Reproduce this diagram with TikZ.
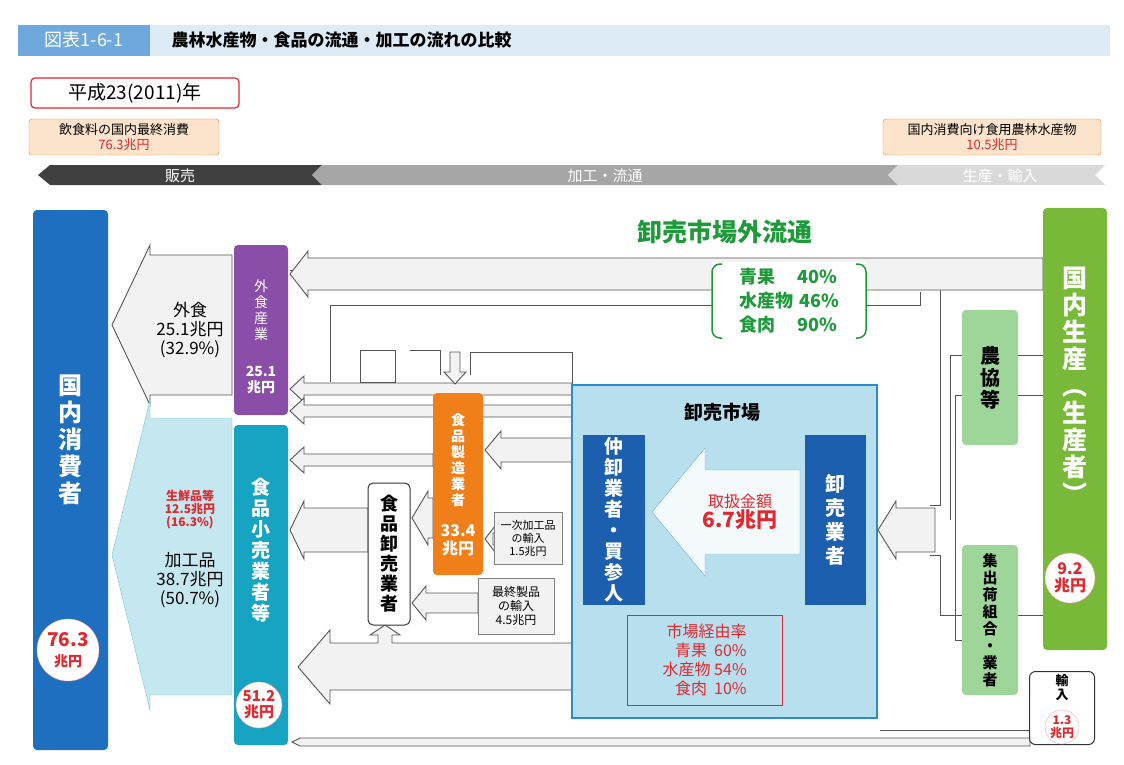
\documentclass[tikz,border=0pt]{standalone}
\usepackage{fontspec}
\setmainfont{Noto Sans CJK JP}
\usetikzlibrary{calc, arrows.meta}
\definecolor{titlebg}{HTML}{DDEBF7}
\definecolor{titledark}{HTML}{6FA8DC}
\definecolor{orgfill}{HTML}{FCE4CC}
\definecolor{orgline}{HTML}{F08A24}
\definecolor{consblue}{HTML}{1F6FC0}
\definecolor{purp}{HTML}{8A4DA8}
\definecolor{retail}{HTML}{17A3C2}
\definecolor{prodgreen}{HTML}{79B93A}
\definecolor{lightgreen}{HTML}{9ED69A}
\definecolor{mktbg}{HTML}{B7DFEE}
\definecolor{mktline}{HTML}{2E8BC9}
\definecolor{innerblue}{HTML}{1B5FAE}
\definecolor{mfgorange}{HTML}{F07F1A}
\definecolor{txtgreen}{HTML}{1E9A3A}
\definecolor{txtred}{HTML}{E0282E}
\definecolor{flowfill}{HTML}{F2F2F2}
\definecolor{flowline}{HTML}{555555}
\tikzset{
  flow/.style={fill=flowfill, draw=flowline, line width=0.9pt, line join=miter},
  pipe/.style={draw=flowline, line width=0.9pt},
  bar/.style={rounded corners=4pt, draw=none},
  vlabel/.style={align=center, font=\bfseries\fontsize{17}{19}\selectfont, inner sep=0pt},
  money/.style={circle, fill=white, draw=txtred!40, minimum size=46pt, inner sep=0pt, align=center,
    text=txtred, font=\bfseries\fontsize{13}{14}\selectfont},
  chev/.style={text=white, font=\fontsize{15}{16}\selectfont}
}
% hollow arrow pointing left: tip x, tail x, centre y, half width, head length
\newcommand\flowL[5]{\draw[flow] (#2,#3-#4) -- (#1+#5,#3-#4) -- (#1+#5,#3-#4-7) -- (#1,#3)
  -- (#1+#5,#3+#4+7) -- (#1+#5,#3+#4) -- (#2,#3+#4) -- cycle;}
\begin{document}
\begin{tikzpicture}[x=1pt, y=-1pt]
\useasboundingbox (0,0) rectangle (1124,765);
% title
\fill[titlebg] (18,25) rectangle (1110,56);
\fill[titledark] (18,25) rectangle (150,56);
\node[text=white, font=\fontsize{18}{19}\selectfont] (fig) at (84,40) {図表1-6-1};
\node[anchor=west, font=\bfseries\fontsize{17}{18}\selectfont] (title) at (168,40) {農林水産物・食品の流通・加工の流れの比較};
\node[draw=txtred, line width=1.2pt, rounded corners=4pt, minimum width=208pt, minimum height=30pt,
  font=\fontsize{19}{20}\selectfont] (year) at (135,93) {平成23(2011)年};
% top boxes
\node[draw=orgline, fill=orgfill, rounded corners=3pt, minimum width=190pt, minimum height=36pt, align=center,
  font=\fontsize{13}{15}\selectfont] (consume) at (124,137) {飲食料の国内最終消費\\\textcolor{txtred}{76.3兆円}};
\node[draw=orgline, fill=orgfill, rounded corners=3pt, minimum width=218pt, minimum height=36pt, align=center,
  font=\fontsize{13}{15}\selectfont] (supply) at (992,137) {国内消費向け食用農林水産物\\\textcolor{txtred}{10.5兆円}};
% chevron band
\fill[black!75] (38,175) -- (50,165) -- (322,165) -- (312,175) -- (322,185) -- (50,185) -- cycle;
\fill[black!35] (312,175) -- (322,165) -- (898,165) -- (888,175) -- (898,185) -- (322,185) -- cycle;
\fill[black!15] (888,175) -- (898,165) -- (1105,165) -- (1095,175) -- (1105,185) -- (898,185) -- cycle;
\node[chev] (sale) at (180,176) {販売};
\node[chev] (proc) at (605,176) {加工・流通};
\node[chev] (prod) at (1000,176) {生産・輸入};
% pipes from producers
\draw[pipe] (1043,270) -- (290,270);
\draw[pipe] (920,292) -- (920,305) -- (330,305) -- (330,382);
\draw[pipe] (1043,280) -- (940,280) -- (940,505) -- (930,505);
\draw[pipe] (1043,355) -- (1018,355);
\draw[pipe] (962,355) -- (950,355) -- (950,520);
\draw[pipe] (1043,615) -- (1018,615);
\draw[pipe] (962,615) -- (940,615) -- (940,555) -- (930,555);
\draw[pipe] (1043,395) -- (1018,395);
\draw[pipe] (962,395) -- (955,395) -- (955,640) -- (962,640);
\draw[pipe] (360,350) rectangle (395,382);
\draw[pipe] (410,350) -- (440,350) -- (440,375);
\draw[pipe] (470,375) -- (470,352) -- (572,352) -- (572,385);
\draw[pipe] (1030,730) -- (880,730);
% flows
\flowL{290}{1043}{274}{16}{18}
\flowL{290}{572}{389}{6}{14}
\flowL{290}{572}{411}{6}{14}
\flowL{290}{433}{460}{6}{14}
\flowL{485}{572}{450}{12}{16}
\flowL{412}{433}{518}{20}{16}
\flowL{485}{493}{539}{6}{10}
\flowL{412}{478}{603}{10}{14}
\flowL{290}{368}{530}{22}{14}
\flowL{878}{935}{530}{22}{18}
\draw[flow] (572,643) -- (392,643) -- (392,635) -- (400,635) -- (385,625) -- (370,635) -- (378,635) -- (378,643)
  -- (330,643) -- (330,630) -- (298,667) -- (330,704) -- (330,690) -- (572,690) -- cycle;
\draw[flow] (1030,738) -- (300,738) -- (292,742) -- (300,746) -- (1030,746) -- cycle;
\draw[flow] (450,352) -- (450,372) -- (444,372) -- (455,384) -- (466,372) -- (460,372) -- (460,352) -- cycle;
% consumer
\fill[consblue, bar] (33,210) rectangle (108,750);
\node[vlabel, text=white, font=\bfseries\fontsize{24}{27}\selectfont] (cons) at (70,440) {国\\内\\消\\費\\者};
\node[money, minimum size=62pt, font=\bfseries\fontsize{19}{20}\selectfont] (cm) at (68,650) {76.3\\\fontsize{14}{15}\selectfont 兆円};
% eating-out arrow
\draw[flow] (232,255) -- (150,255) -- (150,245) -- (112,325) -- (150,405) -- (150,395) -- (232,395) -- cycle;
\node[align=center, font=\fontsize{17}{19}\selectfont] (eat) at (190,330) {外食\\25.1兆円\\(32.9\%)};
% retail arrow
\draw[fill=retail!25, draw=retail!60] (232,418) -- (150,418) -- (150,400) -- (112,555) -- (150,710) -- (150,695) -- (232,695) -- cycle;
\node[align=center, text=txtred, font=\bfseries\fontsize{12}{13}\selectfont] (fresh) at (190,510) {生鮮品等\\12.5兆円\\(16.3\%)};
\node[align=center, font=\fontsize{17}{19}\selectfont] (proc2) at (190,580) {加工品\\38.7兆円\\(50.7\%)};
% eating-out industry
\fill[purp, bar] (234,245) rectangle (288,415);
\node[vlabel, text=white, font=\fontsize{14}{16}\selectfont] (eatind) at (261,310) {外\\食\\産\\業};
\node[vlabel, text=white, font=\bfseries\fontsize{14}{16}\selectfont] (eatv) at (261,380) {25.1\\兆円};
% retailers
\fill[retail, bar] (234,425) rectangle (288,745);
\node[vlabel, text=white, font=\bfseries\fontsize{19}{21}\selectfont] (ret) at (261,550) {食\\品\\小\\売\\業\\者\\等};
\node[money, font=\bfseries\fontsize{15}{16}\selectfont] (rm) at (259,705) {51.2\\兆円};
% food manufacturers
\fill[mfgorange, bar] (433,393) rectangle (483,575);
\node[vlabel, text=white, font=\bfseries\fontsize{14}{16}\selectfont] (mfg) at (458,460) {食\\品\\製\\造\\業\\者};
\node[vlabel, text=white, font=\bfseries\fontsize{16}{18}\selectfont] (mfgv) at (458,540) {33.4\\兆円};
% food wholesalers
\node[draw=black!80, fill=white, rounded corners=5pt, line width=1pt, minimum width=42pt, minimum height=142pt,
  vlabel, font=\bfseries\fontsize{18}{20}\selectfont] (whole) at (389,554) {食\\品\\卸\\売\\業\\者};
% import boxes
\node[draw=black!50, fill=flowfill, minimum width=68pt, minimum height=52pt, align=center, inner sep=1pt,
  font=\fontsize{11}{13}\selectfont] (imp1) at (528,538) {一次加工品\\の輸入\\1.5兆円};
\node[draw=black!50, fill=flowfill, minimum width=76pt, minimum height=56pt, align=center, inner sep=1pt,
  font=\fontsize{12}{14}\selectfont] (imp2) at (516,606) {最終製品\\の輸入\\4.5兆円};
% wholesale market
\draw[fill=mktbg, draw=mktline, line width=2pt] (572,385) rectangle (877,718);
\node[font=\bfseries\fontsize{19}{20}\selectfont] (mkt) at (722,412) {卸売市場};
\fill[innerblue] (583,435) rectangle (645,605);
\node[vlabel, text=white, font=\bfseries\fontsize{19}{21}\selectfont] (mid) at (614,520) {仲\\卸\\業\\者\\・\\買\\参\\人};
\fill[innerblue] (805,435) rectangle (866,605);
\node[vlabel, text=white, font=\bfseries\fontsize{20}{24}\selectfont] (whm) at (835,520) {卸\\売\\業\\者};
\draw[fill=white!85!mktbg, draw=mktline!70] (800,470) -- (705,470) -- (705,448) -- (652,512) -- (705,576) -- (705,554) -- (800,554) -- cycle;
\node[align=center, text=txtred, font=\fontsize{16}{18}\selectfont] (amt) at (740,512) {取扱金額\\\bfseries\fontsize{21}{23}\selectfont 6.7兆円};
\node[draw=txtred, fill=mktbg, minimum width=155pt, minimum height=90pt, anchor=north west, inner sep=0pt] (rate) at (627,615) {};
\node[align=right, text=txtred, font=\fontsize{16}{19}\selectfont] at (rate.center) {市場経由率\\青果\ \ 60\%\\水産物 54\%\\食肉\ \ 10\%};
% outside-market label
\node[text=txtgreen, font=\bfseries\fontsize{25}{27}\selectfont] (outside) at (725,232) {卸売市場外流通};
\fill[white] (712,262) rectangle (866,340);
\draw[txtgreen, line width=1.5pt, rounded corners=8pt] (722,264) -- (712,264) -- (712,338) -- (722,338);
\draw[txtgreen, line width=1.5pt, rounded corners=8pt] (856,264) -- (866,264) -- (866,338) -- (856,338);
\node[align=left, text=txtgreen, font=\bfseries\fontsize{18}{24}\selectfont] (share) at (789,301)
  {青果\hspace{22pt}40\%\\水産物\hspace{6pt}46\%\\食肉\hspace{22pt}90\%};
% producers
\fill[prodgreen, bar] (1043,208) rectangle (1107,650);
\node[vlabel, text=white, font=\bfseries\fontsize{25}{27}\selectfont] (dom) at (1075,385) {国\\内\\生\\産\\︵\\生\\産\\者\\︶};
\node[money, minimum size=50pt, font=\bfseries\fontsize{16}{17}\selectfont] (pm) at (1070,578) {9.2\\兆円};
\fill[lightgreen, bar] (962,310) rectangle (1018,445);
\node[vlabel, font=\bfseries\fontsize{20}{22}\selectfont] (ja) at (990,378) {農\\協\\等};
\fill[lightgreen, bar] (962,545) rectangle (1018,695);
\node[vlabel, font=\bfseries\fontsize{15}{17}\selectfont] (ship) at (990,620) {集\\出\\荷\\組\\合\\・\\業\\者};
\node[draw=black!80, fill=white, rounded corners=6pt, line width=1pt, minimum width=65pt, minimum height=73pt] (imp) at (1062,708) {};
\node[vlabel, font=\bfseries\fontsize{13}{14}\selectfont] (impt) at (1062,688) {輸\\入};
\node[money, minimum size=34pt, font=\bfseries\fontsize{12}{13}\selectfont] (im) at (1062,727) {1.3\\兆円};
\end{tikzpicture}
\end{document}
